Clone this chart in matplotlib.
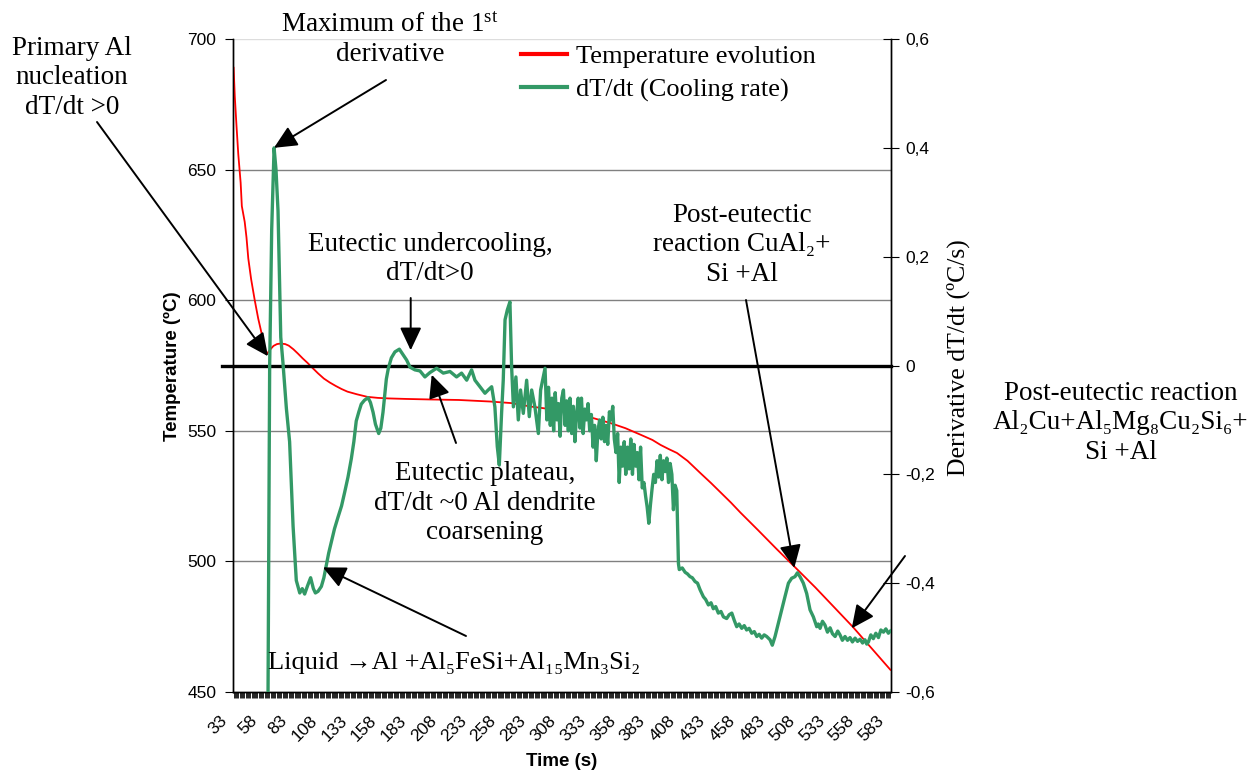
import matplotlib
matplotlib.use("Agg")
import matplotlib.pyplot as plt
from matplotlib.lines import Line2D
from matplotlib.transforms import ScaledTranslation

# ---------------- data ----------------
time_T = [33.0, 34.0, 35.4, 36.9, 38.9, 39.9, 42.3, 43.8, 45.3, 47.7, 50.7, 53.6, 56.6, 59.0, 61.0, 63.4, 66.4, 69.3, 72.3, 76.2,
          79.2, 83.1, 87.0, 90.9, 94.9, 98.8, 103.7, 108.6, 113.5, 118.4, 123.4, 128.3, 136.1, 145.0, 153.8, 162.6, 177.4, 197.0, 221.6, 248.1,
          265.8, 281.6, 298.3, 314.9, 331.6, 348.3, 361.1, 373.8, 383.7, 390.5, 397.4, 404.3, 413.1, 423.9, 432.8, 440.6, 449.5, 457.4, 472.1, 487.6,
          504.4, 520.2, 535.8, 551.6, 567.3, 583.0]
temperature = [689, 678, 667, 656, 645, 636, 630, 624, 616, 608, 600, 593, 587, 581, 579.5, 581, 582.5, 583.2, 583.4, 583.2,
               582.6, 581.2, 579.5, 577.7, 576, 574.2, 572, 570, 568.5, 567.2, 566, 565, 564, 563, 562.6, 562.4, 562.2, 562, 561.8, 561.2,
               560.6, 559.3, 558.3, 557, 555.2, 553, 551, 548.5, 546.5, 544.6, 543, 541.5, 538.5, 533.8, 530, 526.5, 522.5, 518.7, 512, 504.8,
               497.2, 490, 482.5, 474.9, 466.7, 458.5]

time_rate = [61.5, 63.2, 64.9, 66.9, 68.5, 70.2, 72.5, 74.3, 77.2, 79.9, 82.8, 85.5, 88.4, 90.5, 92.5, 94.9, 97.5, 99.8, 101.5, 103.7,
             106.5, 108.6, 110.6, 112.6, 114.8, 117.5, 120.4, 123.4, 126.0, 128.8, 131.6, 133.7, 135.7, 137.9, 139.9, 142.5, 145.6, 147.6, 149.8, 151.8,
             154.5, 156.3, 158.1, 159.7, 160.9, 162.6, 165.1, 168.1, 171.8, 175.1, 177.9, 180.7, 184.8, 189.1, 193.2, 197.4, 203.0, 208.6, 214.2, 219.7,
             223.9, 228.2, 232.3, 235.1, 239.3, 243.5, 246.2, 249.1, 251.8, 253.8, 255.5, 257.4, 258.8, 260.3, 262.2, 264.4, 265.8, 267.3, 269.4, 271.4,
             273.3, 275.6, 278.4, 280.6, 282.6, 285.3, 288.2, 290.1, 293.8,
             295.3, 296.7, 298.2, 299.6, 301.0, 302.3, 303.7, 305.1, 306.4, 307.8, 309.2, 310.6, 311.9, 313.3, 314.7,
             316.1, 317.5, 318.8, 320.2, 321.6, 323.0, 324.3, 325.7, 327.1, 328.5, 329.8, 331.2, 332.6, 334.0, 335.3,
             336.7, 338.1, 339.5, 340.8, 342.2, 343.6, 344.9, 346.3, 347.7, 349.1, 350.5, 351.8, 353.2, 354.6, 355.9,
             357.3, 358.7, 360.1, 361.4, 362.8, 364.2, 365.6, 367.0, 368.3, 369.7, 371.1, 372.5, 373.8, 375.2, 376.6,
             378.0, 379.3, 380.7, 382.1, 383.5, 384.8, 386.2, 387.6, 389.0, 390.3, 391.7, 393.1, 394.5, 395.8, 397.2,
             398.6, 400.0, 401.3, 402.7, 404.1, 405.5, 406.2, 408.7, 411.1, 413.1, 415.2, 417.1, 419.4, 421.5, 423.6,
             426.4, 428.3, 430.6, 432.8, 434.7, 436.7, 438.9, 441.1, 443.2, 445.9, 448.0, 450.2, 452.2, 454.3, 456.3,
             458.5, 460.6, 462.6, 464.7, 466.9, 469.0, 471.1, 473.1, 475.2, 477.3, 479.4, 482.2, 484.1, 486.4, 489.1,
             492.0, 494.7, 497.6, 500.3, 503.1, 505.1, 507.3, 510.1, 512.9, 515.7, 518.5, 521.3, 522.6, 524.1, 526.1,
             528.2, 530.3, 532.5, 534.5, 536.7, 538.9, 540.8, 542.8, 545.0, 547.1, 549.2, 551.2, 553.4, 555.5, 557.6,
             559.7, 561.7, 563.2, 564.6, 566.6, 568.7, 570.8, 573.0, 575.0, 577.2, 579.2, 581.3, 583.0]
cooling_rate = [-0.75, 0.0, 0.25, 0.40, 0.36, 0.284, 0.052, 0.006, -0.079, -0.14, -0.295, -0.395, -0.418, -0.41, -0.42, -0.405, -0.39, -0.41, -0.418, -0.415,
                -0.406, -0.39, -0.368, -0.345, -0.325, -0.30, -0.279, -0.258, -0.233, -0.205, -0.171, -0.14, -0.102, -0.085, -0.071, -0.064, -0.059, -0.068, -0.086, -0.108,
                -0.125, -0.115, -0.086, -0.05, -0.025, -0.005, 0.014, 0.025, 0.030, 0.019, 0.010, -0.003, -0.008, -0.010, -0.021, -0.013, -0.005, -0.014, -0.011, -0.021,
                -0.014, -0.027, -0.008, -0.027, -0.039, -0.051, -0.045, -0.039, -0.076, -0.149, -0.183, -0.088, -0.027, 0.084, 0.102, 0.117, -0.002, -0.076, -0.021, -0.100,
                -0.045, -0.088, -0.027, -0.094, -0.045, -0.076, -0.125, -0.045, -0.005,
                -0.100, -0.040, -0.110, -0.060, -0.120, -0.050, -0.100, -0.070, -0.130, -0.060, -0.045, -0.110, -0.065, -0.120, -0.060,
                -0.125, -0.075, -0.140, -0.090, -0.060, -0.115, -0.060, -0.125, -0.080, -0.100, -0.070, -0.120, -0.090, -0.150, -0.110,
                -0.175, -0.120, -0.100, -0.135, -0.095, -0.140, -0.110, -0.145, -0.085, -0.100, -0.075, -0.135, -0.160, -0.125, -0.215,
                -0.150, -0.185, -0.140, -0.200, -0.150, -0.190, -0.135, -0.200, -0.145, -0.185, -0.160, -0.210, -0.150, -0.225, -0.215,
                -0.240, -0.260, -0.290, -0.255, -0.225, -0.200, -0.215, -0.175, -0.205, -0.165, -0.210, -0.175, -0.195, -0.170, -0.215,
                -0.180, -0.200, -0.265, -0.220, -0.230, -0.364, -0.375, -0.372, -0.380, -0.383, -0.388, -0.390, -0.397, -0.400, -0.412,
                -0.425, -0.430, -0.440, -0.436, -0.447, -0.443, -0.455, -0.452, -0.462, -0.465, -0.458, -0.455, -0.468, -0.480, -0.475,
                -0.483, -0.478, -0.486, -0.483, -0.492, -0.489, -0.498, -0.494, -0.501, -0.495, -0.498, -0.504, -0.514, -0.498, -0.474,
                -0.449, -0.425, -0.400, -0.391, -0.388, -0.381, -0.388, -0.400, -0.419, -0.449, -0.462, -0.480, -0.475, -0.483, -0.470,
                -0.477, -0.490, -0.482, -0.493, -0.498, -0.488, -0.495, -0.505, -0.498, -0.505, -0.500, -0.508, -0.501, -0.507, -0.503,
                -0.510, -0.504, -0.512, -0.508, -0.495, -0.502, -0.492, -0.500, -0.486, -0.490, -0.484, -0.492, -0.488]
assert len(time_T) == len(temperature)
assert len(time_rate) == len(cooling_rate), (len(time_rate), len(cooling_rate))

time_labels = list(range(33, 584, 25))
all_times = list(range(33, 584))
temp_ticks = [450, 500, 550, 600, 650, 700]
rate_ticks = [-0.6, -0.4, -0.2, 0, 0.2, 0.4, 0.6]
rate_tick_labels = ["-0,6", "-0,4", "-0,2", "0", "0,2", "0,4", "0,6"]

legend_labels = ["Temperature evolution", "dT/dt (Cooling rate)"]

# ---------------- style ----------------
plt.rcParams["mathtext.default"] = "regular"
SERIF = ["Liberation Serif", "DejaVu Serif"]
SANS = ["Liberation Sans", "DejaVu Sans"]
RED = "#FF0000"
GREEN = "#339966"

W, H = 1252, 776
fig = plt.figure(figsize=(W / 100, H / 100), dpi=100)
ax1 = fig.add_axes([233 / W, 1 - 692 / H, (891 - 233) / W, (692 - 39) / H])
ax2 = ax1.twinx()

# gridlines from the temperature ticks
for v in temp_ticks[1:-1]:
    ax1.axhline(v, color="#808080", lw=1.0, zorder=1)
ax1.axhline(temp_ticks[-1], color="#dddddd", lw=1.0, zorder=1)

ax1.plot(time_T, temperature, color=RED, lw=1.3, zorder=3)
ax1.set_xlim(32.5, 583.5)
ax1.set_ylim(450, 700)
ax1.set_yticks(temp_ticks)
ax1.set_yticklabels([str(v) for v in temp_ticks], family=SANS, fontsize=12.5)
ax1.set_xticks(time_labels)
ax1.set_xticklabels([str(v) for v in time_labels], family=SANS, fontsize=12.5,
                    rotation=45, ha="right", va="center", rotation_mode="anchor")
ax1.set_xticks(all_times, minor=True)
ax1.tick_params(axis="x", which="both", direction="out", length=4, width=0.6, pad=15)
ax1.tick_params(axis="y", direction="out", length=6, width=0.8, pad=6)
shift = ScaledTranslation(-8.5 / 100, 0, fig.dpi_scale_trans)
for lab in ax1.xaxis.get_majorticklabels():
    lab.set_transform(lab.get_transform() + shift)

ax2.axhline(0, xmin=-0.017, xmax=1, color="black", lw=2.4, clip_on=False, zorder=2)
ax2.plot(time_rate, cooling_rate, color=GREEN, lw=2.4, zorder=3)
ax2.set_ylim(-0.6, 0.6)
ax2.set_yticks(rate_ticks)
ax2.set_yticklabels(rate_tick_labels, family=SANS, fontsize=12.5)
ax2.tick_params(axis="y", direction="inout", length=11, width=0.8, pad=5)

for a in (ax1, ax2):
    a.spines["top"].set_visible(False)
    for s in ("left", "right", "bottom"):
        a.spines[s].set_linewidth(1.0)
        a.spines[s].set_color("black")

# axis titles
fig.text(172 / W, 1 - 366 / H, "Temperature (ºC)", rotation=90, ha="center", va="center",
         family=SANS, fontsize=13.5, fontweight="bold")
fig.text(562 / W, 1 - 762 / H, "Time (s)", ha="center", va="center",
         family=SANS, fontsize=13.5, fontweight="bold")
fig.text(958 / W, 1 - 358 / H, "Derivative dT/dt (ºC/s)", rotation=90, ha="center", va="center",
         family=SERIF, fontsize=18.5)

# legend
handles = [Line2D([], [], color=RED, lw=3), Line2D([], [], color=GREEN, lw=3)]
fig.legend(handles, legend_labels, loc="upper left", bbox_to_anchor=(521 / W, 1 - 45 / H),
           frameon=False, prop={"family": SERIF, "size": 19}, handlelength=1.75,
           handletextpad=0.35, labelspacing=0.36, borderpad=0, borderaxespad=0)

FS = 19.5
def label(x, y, s, ha="center", size=FS):
    fig.text(x / W, 1 - y / H, s, ha=ha, va="center", family=SERIF, fontsize=size,
             linespacing=1.22, multialignment="center")

def arrow(ax, head, tail):
    ax.annotate("", xy=head, xycoords="data", xytext=(tail[0], H - tail[1]),
                textcoords="figure pixels", annotation_clip=False,
                arrowprops=dict(arrowstyle="-|>,head_length=0.7,head_width=0.33",
                                color="black", lw=1.4, mutation_scale=20,
                                shrinkA=0, shrinkB=0))

label(390, 40, "Maximum of the 1$^{st}$\nderivative")
label(72, 78, "Primary Al\nnucleation\ndT/dt >0")
label(430, 259, "Eutectic undercooling,\ndT/dt>0")
label(485, 503, "Eutectic plateau,\ndT/dt ~0 Al dendrite\ncoarsening")
label(742, 245, "Post-eutectic\nreaction CuAl₂+\nSi +Al")
label(1121, 423, "Post-eutectic reaction\nAl₂Cu+Al₅Mg₈Cu₂Si₆+\nSi +Al")
label(268, 663, "Liquid →Al +Al₅FeSi+Al₁₅Mn₃Si₂", ha="left", size=19)

arrow(ax2, (66.8, 0.40), (386, 80))
arrow(ax2, (61.8, 0.017), (97, 122))
arrow(ax2, (181.3, 0.028), (410.7, 298))
arrow(ax2, (198.9, -0.017), (456, 443))
arrow(ax2, (502.5, -0.372), (746, 300))
arrow(ax2, (550.6, -0.483), (905, 556))
arrow(ax2, (107.8, -0.371), (466, 636))

fig.savefig("out.png", dpi=100)
